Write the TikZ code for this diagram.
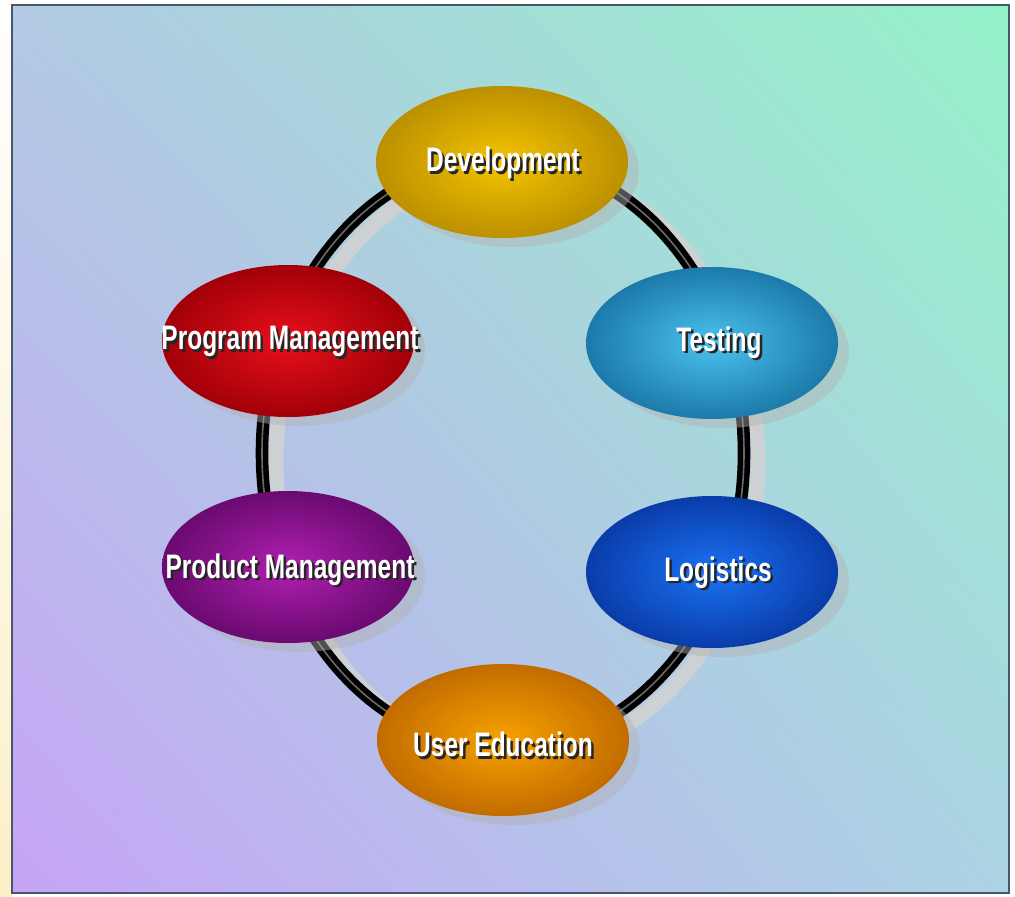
\documentclass[tikz,border=0pt]{standalone}
\usepackage{fontspec}
\newfontfamily\labfont[FakeStretch=0.72]{Liberation Sans}
\usetikzlibrary{shapes.geometric,shadows,shadings}
\definecolor{bgUL}{HTML}{B2CAE4}
\definecolor{bgUR}{HTML}{94F2C8}
\definecolor{bgLL}{HTML}{C6A4F6}
\definecolor{bgLR}{HTML}{ACD4E4}
\definecolor{frame}{HTML}{46586A}
\definecolor{cream}{HTML}{FCEFC8}
\definecolor{ringshadow}{HTML}{CDD1D4}
\definecolor{ringmid}{HTML}{6A6A6A}
\definecolor{devIn}{HTML}{F4C400}\definecolor{devOut}{HTML}{BC9000}
\definecolor{pgmIn}{HTML}{E8101C}\definecolor{pgmOut}{HTML}{A20008}
\definecolor{tstIn}{HTML}{4AC2EE}\definecolor{tstOut}{HTML}{1C7AAA}
\definecolor{pdmIn}{HTML}{B020B0}\definecolor{pdmOut}{HTML}{6A0A70}
\definecolor{logIn}{HTML}{1A72F2}\definecolor{logOut}{HTML}{0A3CAA}
\definecolor{eduIn}{HTML}{F8A200}\definecolor{eduOut}{HTML}{C26C00}
\newcommand\shadowedtext[1]{\rlap{\kern2.5pt\raisebox{-2.5pt}{\textcolor{black!85}{#1}}}\textcolor{white}{#1}}
\begin{document}
\begin{tikzpicture}[x=1pt,y=-1pt,
  oval/.style n args={2}{ellipse, minimum width=252pt, minimum height=152pt, inner sep=0pt,
    shading=radial, inner color=#1, outer color=#2,
    drop shadow={shadow xshift=11pt, shadow yshift=-9pt, fill=black!30, opacity=0.45}},
  lbl/.style={inner sep=0pt, font=\labfont\bfseries\fontsize{34}{36}\selectfont},
  ringline/.style={line width=5.5pt, double=ringmid, double distance=1.6pt},
  ringshade/.style={ringshadow, line width=15pt}]
\useasboundingbox (0,0) rectangle (1015,897);
\fill[white] (0,0) rectangle (1015,897);
\shade[top color=white, bottom color=cream] (0,0) rectangle (12,897);
\shade[upper left=bgUL, upper right=bgUR, lower left=bgLL, lower right=bgLR] (12,5) rectangle (1009,893);
\draw[frame, line width=2pt] (12,5) rectangle (1009,893);
% ring
\coordinate (ringc) at (503,453);
\coordinate (ringsh) at (517,462);
\draw[ringshade] (ringsh) ellipse [x radius=241pt, y radius=295pt];
\draw[ringline] (ringc) ellipse [x radius=241pt, y radius=295pt];
% ovals
\node[oval={devIn}{devOut}] (dev) at (502,162) {};
\node[oval={pgmIn}{pgmOut}] (pgm) at (288,341) {};
\node[oval={tstIn}{tstOut}] (tst) at (712,343) {};
\node[oval={pdmIn}{pdmOut}] (pdm) at (288,567) {};
\node[oval={logIn}{logOut}] (log) at (712,572) {};
\node[oval={eduIn}{eduOut}] (edu) at (503,740) {};
% labels
\node[lbl] (devt) at ([shift={(1,2)}]dev.center) {\shadowedtext{Development}};
\node[lbl] (pgmt) at ([shift={(2,2)}]pgm.center) {\shadowedtext{Program Management}};
\node[lbl] (tstt) at ([shift={(7,1)}]tst.center) {\shadowedtext{Testing}};
\node[lbl] (pdmt) at ([shift={(2,4)}]pdm.center) {\shadowedtext{Product Management}};
\node[lbl] (logt) at ([shift={(6,2)}]log.center) {\shadowedtext{Logistics}};
\node[lbl] (edut) at ([shift={(0,6)}]edu.center) {\shadowedtext{User Education}};
\end{tikzpicture}
\end{document}
